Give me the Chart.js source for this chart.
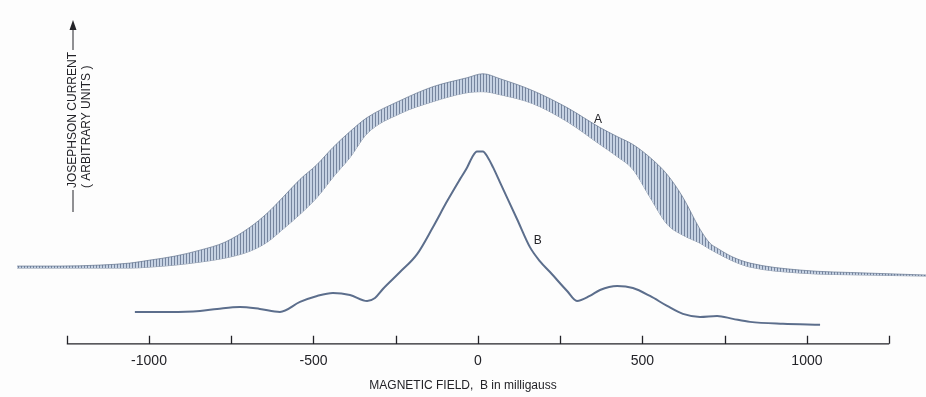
<!DOCTYPE html>
<html>
<head>
<meta charset="utf-8">
<script src="https://cdn.jsdelivr.net/npm/chart.js@4"></script>
<style>
  html, body { margin: 0; padding: 0; background: #fdfdfd; }
  #wrap { width: 926px; height: 397px; position: relative; }
</style>
</head>
<body>
<div id="wrap"><canvas id="jcChart"></canvas></div>
<script>
// magnetic field in milligauss, current in arbitrary units
var aField = [-1401, -1271, -1149, -1058, -997, -921, -845, -769, -693, -641, -593, -541, -489, -441, -389, -337,
              -237, -137, -33, 15, 67, 167, 271, 371, 423, 471, 523, 575, 623, 675, 705, 727, 775, 827, 979, 1183, 1362];
var aUpper = [78, 78, 79, 81, 84, 88, 94, 102, 117, 131, 147, 165, 180, 197, 213, 227,
              244, 258, 267, 271, 266, 254, 237, 217, 208, 200, 187, 170, 147, 115, 101, 96, 87, 81, 74, 71, 69];
var aLower = [76, 76, 76, 76, 77, 79, 82, 86, 93, 102, 115, 130, 147, 167, 187, 211,
              231, 243, 252, 253, 250, 241, 223, 200, 188, 175, 147, 120, 109, 101, 95, 91, 83, 77, 71, 69, 68];

var bField = [-1043, -936, -845, -793, -724, -663, -602, -541, -489, -441, -389, -337, -313, -289, -237, -185,
              -137, -94, -55, -33, -18, -3, 15, 30, 46, 67, 119, 158, 188, 219, 271, 301,
              340, 371, 423, 471, 523, 575, 623, 675, 727, 775, 827, 927, 1040];
var bCurrent = [32, 32, 33, 35, 37, 35, 32, 42, 48, 51, 49, 43, 46, 55, 72, 90,
                117, 143, 165, 177, 187, 193, 193, 187, 177, 162, 125, 97, 83, 72, 53, 43,
                48, 54, 58, 56, 48, 38, 30, 27, 28, 25, 22, 20, 19];

var tickVals   = [-1250, -1000, -750, -500, -250, 0, 250, 500, 750, 1000, 1250];
var tickLabels = ['', '-1000', '', '-500', '', '0', '', '500', '', '1000', ''];

var ink = 'rgb(35,35,40)';
var fontFam = '"Liberation Sans", Arial, sans-serif';

var ctx = document.getElementById('jcChart').getContext('2d');

// vertical hatch to look like the fast oscillations of curve A
function hatch() {
    var c = document.createElement('canvas');
    c.width = 3; c.height = 4;
    var g = c.getContext('2d');
    g.fillStyle = 'rgb(198,210,227)';
    g.fillRect(0, 0, 3, 4);
    g.fillStyle = 'rgb(118,133,158)';
    g.fillRect(0, 0, 1, 4);
    return ctx.createPattern(c, 'repeat');
}

function pts(xs, ys) {
    return xs.map(function(x, i) { return {x: x, y: ys[i]}; });
}

const decor = {
    id: 'decor',
    afterDraw: function(chart) {
        var c = chart.ctx;
        var xs = chart.scales.x, ys = chart.scales.y;
        var y0 = ys.getPixelForValue(0);
        c.save();
        c.strokeStyle = ink;
        c.lineWidth = 1.3;
        c.beginPath();
        c.moveTo(xs.getPixelForValue(tickVals[0]), y0);
        c.lineTo(xs.getPixelForValue(tickVals[tickVals.length - 1]), y0);
        tickVals.forEach(function(v) {
            var px = Math.round(xs.getPixelForValue(v)) + 0.5;
            c.moveTo(px, y0);
            c.lineTo(px, y0 - 8);
        });
        c.stroke();

        // curve names
        c.fillStyle = ink;
        c.font = '12px ' + fontFam;
        c.textAlign = 'center';
        c.textBaseline = 'middle';
        c.fillText('A', xs.getPixelForValue(365), ys.getPixelForValue(225));
        c.fillText('B', xs.getPixelForValue(182), ys.getPixelForValue(103));

        // vertical label with arrow
        c.rotate(-Math.PI / 2);
        c.textAlign = 'left';
        c.font = '12px ' + fontFam;
        var t1 = 'JOSEPHSON CURRENT';
        var w1 = c.measureText(t1).width;
        var start = -188;
        c.fillText(t1, start, 73);
        c.fillText('( ARBITRARY UNITS )', start, 87);
        c.lineWidth = 1;
        c.beginPath();
        c.moveTo(-212, 73); c.lineTo(start - 2, 73);
        c.moveTo(start + w1 + 2, 73); c.lineTo(start + w1 + 24, 73);
        c.stroke();
        c.beginPath();
        var tip = start + w1 + 32;
        c.moveTo(tip, 73); c.lineTo(tip - 10, 69.5); c.lineTo(tip - 10, 76.5); c.closePath();
        c.fill();
        c.restore();
    }
};

var jcChart = new Chart(ctx, {
    type: 'line',
    data: {
        datasets: [{
            label: 'A upper',
            data: pts(aField, aUpper),
            borderColor: 'rgba(95,112,140,0.85)',
            borderWidth: 0.8,
            backgroundColor: hatch(),
            fill: '+1',
            pointRadius: 0,
            cubicInterpolationMode: 'monotone'
        }, {
            label: 'A lower',
            data: pts(aField, aLower),
            borderColor: 'rgba(95,112,140,0.85)',
            borderWidth: 0.8,
            fill: false,
            pointRadius: 0,
            cubicInterpolationMode: 'monotone'
        }, {
            label: 'B',
            data: pts(bField, bCurrent),
            borderColor: 'rgb(92,110,140)',
            borderWidth: 2,
            fill: false,
            pointRadius: 0,
            cubicInterpolationMode: 'monotone'
        }]
    },
    options: {
        responsive: true,
        maintainAspectRatio: false,
        animation: false,
        layout: { padding: 0 },
        plugins: {
            legend: { display: false },
            tooltip: { enabled: false }
        },
        scales: {
            x: {
                type: 'linear',
                min: -1453,
                max: 1362,
                afterBuildTicks: function(scale) {
                    scale.ticks = tickVals.map(function(v) { return {value: v}; });
                },
                grid: { display: false, drawTicks: false },
                border: { display: false },
                title: {
                    display: true,
                    text: 'MAGNETIC FIELD,  B in milligauss',
                    color: ink,
                    font: { family: fontFam, size: 12 },
                    padding: { top: 0, bottom: 4 }
                },
                ticks: {
                    padding: 9,
                    maxRotation: 0,
                    autoSkip: false,
                    color: ink,
                    font: { family: fontFam, size: 14 },
                    callback: function(v) {
                        var i = tickVals.indexOf(v);
                        return i < 0 ? '' : tickLabels[i];
                    }
                }
            },
            y: {
                display: false,
                min: 0,
                max: 345
            }
        }
    },
    plugins: [decor]
});
</script>
</body>
</html>
